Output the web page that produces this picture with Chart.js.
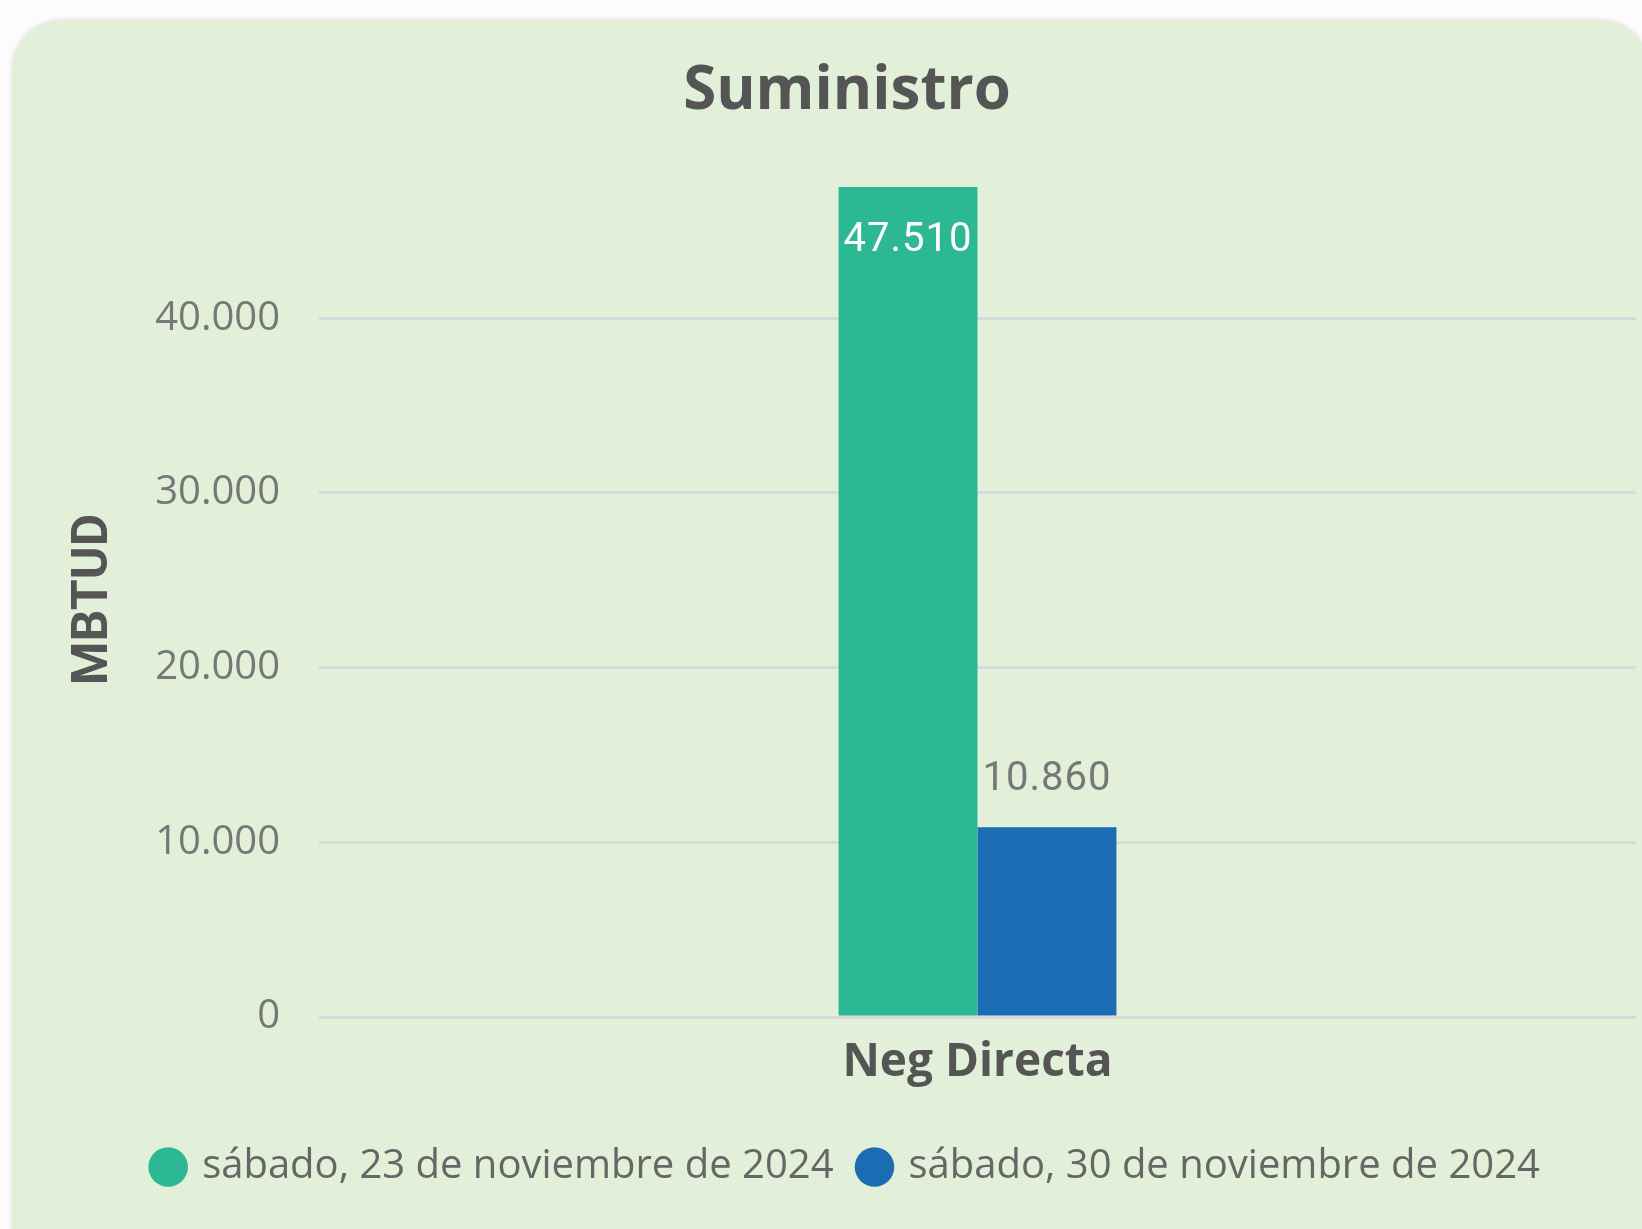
<!DOCTYPE html>
<html>
<head>
<meta charset="utf-8">
<script src="https://cdn.jsdelivr.net/npm/chart.js@4.4.1/dist/chart.umd.min.js"></script>
<style>
    html, body { margin: 0; padding: 0; background: #fdfbfd; overflow: hidden; }
    .panel {
        position: absolute; left: 12px; top: 20px;
        width: 1638px; height: 1260px;
        background: #e2efd9; border-radius: 50px;
        box-shadow: 0 0 4px rgba(120, 140, 110, 0.25);
    }
    #chart { position: absolute; left: 0; top: 0; }
</style>
</head>
<body>
<div class="panel"></div>
<canvas id="chart" width="1642" height="1229"></canvas>
<script>
const categories = ["Neg Directa"];
const series_labels = ["sábado, 23 de noviembre de 2024", "sábado, 30 de noviembre de 2024"];
const values_23_nov = [47510];
const values_30_nov = [10860];
const series_colors = ["#2cb893", "#1a6db3"];
const y_ticks = [0, 10000, 20000, 30000, 40000];
const y_max = 47800;

function fmt(v) {
    return String(Math.round(v)).replace(/\B(?=(\d{3})+(?!\d))/g, ".");
}

// data labels: inside the bar when there is no room above it
const bar_labels = {
    id: "bar_labels",
    afterDatasetsDraw(chart) {
        const ctx = chart.ctx;
        const area = chart.chartArea;
        ctx.save();
        ctx.font = "40px Roboto";
        ctx.letterSpacing = "1px";
        ctx.textAlign = "center";
        ctx.textBaseline = "middle";
        chart.data.datasets.forEach((ds, i) => {
            chart.getDatasetMeta(i).data.forEach((bar, j) => {
                let text = fmt(ds.data[j]);
                if (bar.y - 80 > area.top) {
                    ctx.fillStyle = "#777777";
                    ctx.fillText(text, bar.x, bar.y - 47);
                } else {
                    ctx.fillStyle = "#ffffff";
                    ctx.fillText(text, bar.x, bar.y + 54);
                }
            });
        });
        ctx.restore();
    }
};

let ctx = document.getElementById("chart").getContext("2d");
let chart = new Chart(ctx, {
    type: "bar",
    data: {
        labels: categories,
        datasets: [{
            label: series_labels[0],
            data: values_23_nov,
            backgroundColor: series_colors[0],
            borderWidth: 0
        }, {
            label: series_labels[1],
            data: values_30_nov,
            backgroundColor: series_colors[1],
            borderWidth: 0
        }]
    },
    options: {
        responsive: false,
        animation: false,
        devicePixelRatio: 1,
        layout: {
            padding: { top: 20, left: 58, right: 6, bottom: 32 }
        },
        barPercentage: 1,
        categoryPercentage: 0.211,
        plugins: {
            title: {
                display: true,
                text: "Suministro",
                color: "#555555",
                font: { family: "'Open Sans'", size: 60, weight: "bold" },
                padding: { top: 36, bottom: 54 }
            },
            legend: {
                position: "bottom",
                labels: {
                    usePointStyle: true,
                    pointStyle: "circle",
                    boxWidth: 28,
                    boxHeight: 28,
                    padding: 27,
                    color: "#666666",
                    font: { family: "'Open Sans'", size: 40 }
                }
            },
            tooltip: { enabled: false }
        },
        scales: {
            x: {
                grid: { display: false },
                border: { display: false },
                ticks: {
                    padding: 10,
                    color: "#555555",
                    font: { family: "'Open Sans'", size: 46, weight: "bold" }
                },
                afterFit(scale) { scale.height = 103; }
            },
            y: {
                min: 0,
                max: y_max,
                grid: { color: "#d8d9db", lineWidth: 3, drawTicks: false },
                border: { display: false },
                ticks: {
                    padding: 39,
                    color: "#777777",
                    font: { family: "'Open Sans'", size: 40 },
                    callback: v => fmt(v)
                },
                afterBuildTicks(scale) {
                    scale.ticks = y_ticks.map(v => ({ value: v }));
                },
                title: {
                    display: true,
                    text: "MBTUD",
                    color: "#555555",
                    font: { family: "Roboto", size: 50, weight: "bold" },
                    padding: { top: 6, bottom: 0 }
                },
                afterFit(scale) { scale.width = 261; }
            }
        }
    },
    plugins: [bar_labels]
});
</script>
</body>
</html>
